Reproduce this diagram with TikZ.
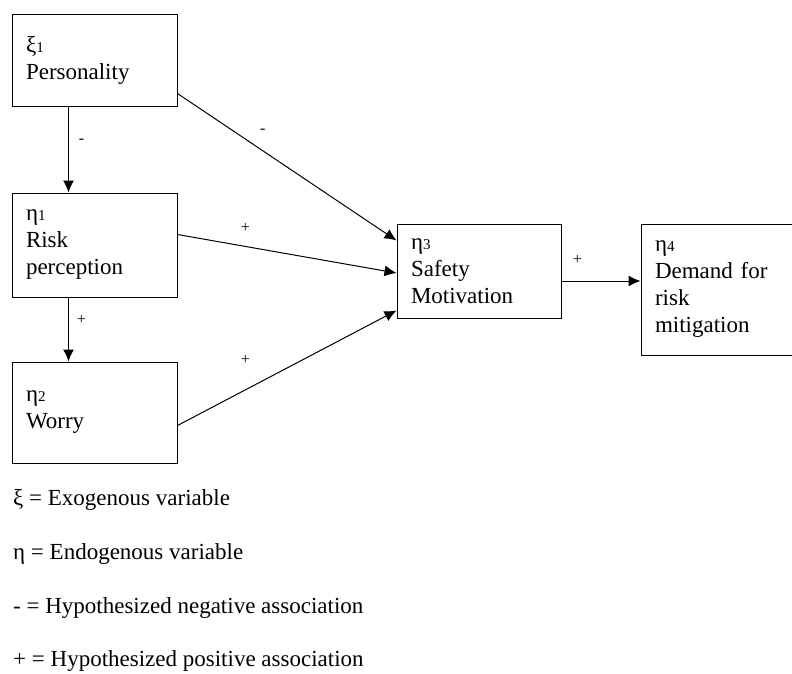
\documentclass[tikz,border=0pt]{standalone}
\usepackage{fontspec}
\setmainfont{Liberation Serif}
\usetikzlibrary{arrows.meta}
\newcommand{\ix}[1]{{\fontsize{15}{15}\selectfont #1}}
\tikzset{%
  vbox/.style={draw,line width=1pt,align=left,inner xsep=14pt,inner ysep=0pt,font=\fontsize{23}{27}\selectfont},
  link/.style={draw,line width=1pt,-{Latex[length=12pt,width=11pt]}},
  sign/.style={font=\fontsize{16}{16}\selectfont,inner sep=0pt},
  legend/.style={anchor=base west,inner sep=0pt,font=\fontsize{23}{27}\selectfont}
}
\begin{document}
\begin{tikzpicture}[x=1pt,y=-1pt]
    \useasboundingbox (0,0) rectangle (792,673);
    \path
      (94.5,60)    node (xi1)[vbox,text width=137pt,minimum height=92pt]{ξ\ix{1}\\Personality}
      (94.5,245)   node (eta1)[vbox,text width=137pt,minimum height=104pt]{η\ix{1}\\Risk\\perception}
      (94.5,412.5) node (eta2)[vbox,text width=137pt,minimum height=101pt]{η\ix{2}\\Worry}
      (479,271)    node (eta3)[vbox,text width=136pt,minimum height=94pt]{η\ix{3}\\Safety\\Motivation}
      (721,289.5)  node (eta4)[vbox,text width=132pt,minimum height=131pt]{η\ix{4}\\Demand for\\risk\\mitigation};
    \path
      (13,505) node (leg1)[legend]{ξ = Exogenous variable}
      (13,559) node (leg2)[legend]{η = Endogenous variable}
      (13,613) node (leg3)[legend]{- = Hypothesized negative association}
      (13,666) node (leg4)[legend]{+ = Hypothesized positive association};
    \draw[link] ([xshift=57pt]xi1.south west) -- node[sign,pos=.4,xshift=13pt]{-} ([xshift=57pt]eta1.north west);
    \draw[link] ([yshift=13pt]xi1.south east) -- node[sign,pos=.39,yshift=20pt]{-} ([yshift=-17pt]eta3.north west);
    \draw[link] ([yshift=-42pt]eta1.north east) -- node[sign,pos=.31,yshift=18pt]{+} ([yshift=-2pt]eta3.west);
    \draw[link] ([yshift=-64pt]eta2.north east) -- node[sign,pos=.31,yshift=30pt]{+} ([yshift=8pt]eta3.south west);
    \draw[link] ([xshift=57pt]eta1.south west) -- node[sign,pos=.35,xshift=13pt]{+} ([xshift=57pt]eta2.north west);
    \draw[link] ([yshift=-10pt]eta3.east) -- node[sign,pos=.2,yshift=21pt]{+} ([yshift=8.5pt]eta4.west);
  \end{tikzpicture}
\end{document}
